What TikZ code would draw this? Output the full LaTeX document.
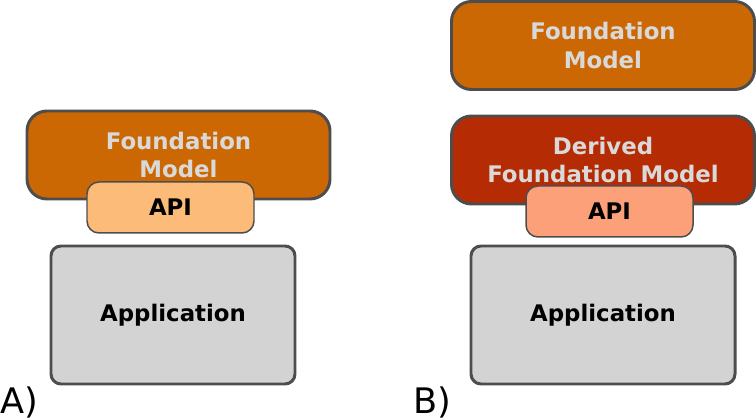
\documentclass[tikz,border=0pt]{standalone}
\usepackage{fontspec}
\setmainfont{DejaVu Sans}
\definecolor{fmorange}{HTML}{CC6804}
\definecolor{fmred}{HTML}{B52B03}
\definecolor{apilight}{HTML}{FCBB78}
\definecolor{apisalmon}{HTML}{FCA079}
\definecolor{appgray}{HTML}{D3D3D3}
\definecolor{edgegray}{HTML}{4D4D4D}
\definecolor{textlight}{HTML}{D9D9D9}
\tikzset{
  box/.style={draw=edgegray, line width=1.7pt, align=center, inner sep=0pt,
    font=\fontsize{13}{16}\selectfont\bfseries},
  fmbox/.style={box, fill=fmorange, text=textlight, rounded corners=0.4cm,
    minimum width=6.06cm, minimum height=1.76cm},
  apibox/.style={box, line width=0.85pt, rounded corners=0.24cm,
    minimum width=3.34cm, minimum height=1.02cm},
  appbox/.style={box, fill=appgray, rounded corners=0.2cm, minimum height=2.76cm},
  caselabel/.style={anchor=base west, inner sep=0pt, font=\fontsize{20}{24}\selectfont}
}
\begin{document}
\begin{tikzpicture}
  \useasboundingbox (0,0) rectangle (15.12,8.4);
  % A) direct use
  \node[fmbox] (fmA) at (3.57,5.3) {Foundation\\Model};
  \node[apibox, fill=apilight] (apiA) at (3.41,4.25) {API};
  \node[appbox, minimum width=4.88cm] (appA) at (3.46,2.1) {Application};
  \node[caselabel] (labA) at (0,0.12) {A)};
  % B) derived model
  \node[fmbox] (fmB) at (12.06,7.49) {Foundation\\Model};
  \node[fmbox, fill=fmred] (derB) at (12.06,5.2) {Derived\\Foundation Model};
  \node[apibox, fill=apisalmon] (apiB) at (12.19,4.17) {API};
  \node[appbox, minimum width=5.28cm] (appB) at (12.06,2.1) {Application};
  \node[caselabel] (labB) at (8.26,0.12) {B)};
\end{tikzpicture}
\end{document}
